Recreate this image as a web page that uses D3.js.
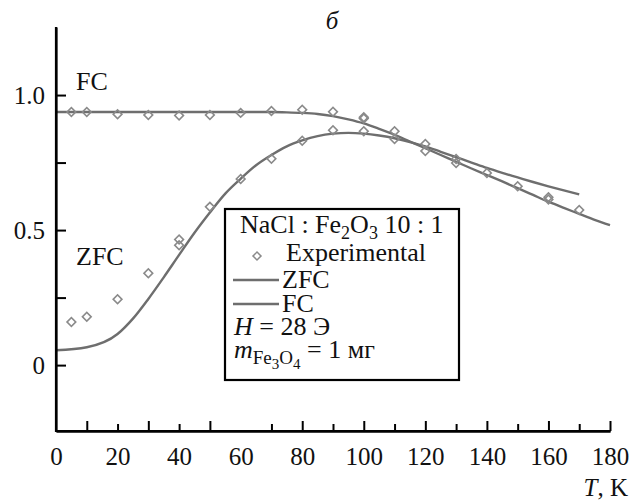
<!DOCTYPE html>
<html lang="en">
  <head>
    <meta charset="utf-8">
    <title>ZFC / FC</title>
    <script src="https://cdnjs.cloudflare.com/ajax/libs/d3/7.8.5/d3.min.js"></script>
    <style>
      body { margin: 0; background: #fff; }
      svg, text { font-family: "Liberation Serif", "Times New Roman", Times, "DejaVu Serif", serif; }
      text { fill: #111; }
    </style>
  </head>
  <body>
    <script>
      // temperature grid of the fitted curves (K)
      var curveT = [0, 10, 20, 25, 30, 35, 40, 45, 50, 55, 60, 65, 70, 75, 80, 85, 90, 95, 100,
                    105, 110, 115, 120, 125, 130, 135, 140, 145, 150, 155, 160, 165, 170, 175, 180];
      var fcCurve = [0.937, 0.937, 0.937, 0.937, 0.937, 0.937, 0.937, 0.937, 0.937, 0.937, 0.937, 0.937, 0.937, 0.936, 0.934, 0.930, 0.922, 0.910, 0.895,
                     0.875, 0.853, 0.828, 0.803, 0.778, 0.753, 0.728, 0.704, 0.680, 0.655, 0.630, 0.605, 0.582, 0.560, 0.538, 0.518];
      var zfcCurve = [0.055, 0.066, 0.115, 0.172, 0.245, 0.325, 0.408, 0.490, 0.565, 0.635, 0.690, 0.740, 0.778, 0.810, 0.832, 0.848, 0.857, 0.860, 0.857,
                      0.850, 0.840, 0.826, 0.810, 0.790, 0.770, 0.750, 0.730, 0.712, 0.695, 0.678, 0.662, 0.647, 0.632, null, null];

      // experimental points
      var fcExpT = [5, 10, 20, 30, 40, 50, 60, 70, 80, 90, 100, 100, 110, 120, 130, 160];
      var fcExpM = [0.937, 0.937, 0.929, 0.926, 0.924, 0.926, 0.934, 0.941, 0.946, 0.938, 0.913, 0.918, 0.866, 0.819, 0.763, 0.622];
      var zfcExpT = [5, 10, 20, 30, 40, 40, 50, 60, 70, 80, 90, 100, 110, 120, 130, 140, 150, 160, 170];
      var zfcExpM = [0.160, 0.179, 0.244, 0.340, 0.444, 0.465, 0.586, 0.689, 0.764, 0.831, 0.870, 0.866, 0.837, 0.793, 0.748, 0.711, 0.662, 0.613, 0.574];

      // ticks
      var xLabels = [0, 20, 40, 60, 80, 100, 120, 140, 160, 180];
      var xTallTicks = [10, 30, 50, 80, 100, 120, 140, 160, 180];
      var xShortTicks = [20, 40, 70, 90, 110, 130, 150, 170];
      var yTicks = [0, 0.25, 0.5, 0.75, 1.0];
      var yLabels = { "0": "0", "0.5": "0.5", "1": "1.0" };

      var w = 643, h = 503;

      var svg = d3.select("body").append("svg")
        .attr("width", w)
        .attr("height", h);

      var x = d3.scaleLinear().domain([0, 180]).range([56, 610]);
      var y = d3.scaleLinear().domain([-0.244, 1.252]).range([431, 27]);

      // curves
      var line = d3.line()
        .defined(function(d) { return d[1] != null; })
        .x(function(d) { return x(d[0]); })
        .y(function(d) { return y(d[1]); })
        .curve(d3.curveMonotoneX);

      var curves = [
        curveT.map(function(t, i) { return [t, zfcCurve[i]]; }),
        curveT.map(function(t, i) { return [t, fcCurve[i]]; })
      ];

      svg.selectAll(".fit")
        .data(curves)
        .enter()
        .append("path")
        .attr("class", "fit")
        .attr("d", line)
        .attr("fill", "none")
        .attr("stroke", "#6e6e6e")
        .attr("stroke-width", 2.4);

      // experimental diamonds
      var diamond = d3.symbol(d3.symbolSquare, 38);
      var pts = fcExpT.map(function(t, i) { return [t, fcExpM[i]]; })
        .concat(zfcExpT.map(function(t, i) { return [t, zfcExpM[i]]; }));

      svg.selectAll(".pt")
        .data(pts)
        .enter()
        .append("path")
        .attr("class", "pt")
        .attr("d", diamond)
        .attr("transform", function(d) { return "translate(" + x(d[0]) + "," + y(d[1]) + ") rotate(45)"; })
        .attr("fill", "none")
        .attr("stroke", "#8a8a8a")
        .attr("stroke-width", 1.6);

      // x axis: tall ticks, short ticks, labels
      svg.append("g")
        .attr("transform", "translate(0," + y.range()[0] + ")")
        .call(d3.axisBottom(x).tickValues(xTallTicks).tickSize(-10).tickSizeOuter(0).tickFormat(""));
      svg.append("g")
        .attr("transform", "translate(0," + y.range()[0] + ")")
        .call(d3.axisBottom(x).tickValues(xShortTicks).tickSize(-7).tickSizeOuter(0).tickFormat(""));
      svg.append("g")
        .attr("class", "xlab")
        .attr("transform", "translate(0," + y.range()[0] + ")")
        .call(d3.axisBottom(x).tickValues(xLabels).tickSize(0).tickSizeOuter(0).tickPadding(16).tickFormat(d3.format("d")));

      // y axis
      svg.append("g")
        .attr("class", "ylab")
        .attr("transform", "translate(" + x.range()[0] + ",0)")
        .call(d3.axisLeft(y).tickValues(yTicks).tickSize(-10).tickSizeOuter(0).tickPadding(11)
          .tickFormat(function(d) { return yLabels[String(d)] || ""; }));

      svg.selectAll("g").attr("font-family", null);
      svg.selectAll(".domain")
        .attr("stroke", "#000")
        .attr("stroke-width", 2.2);
      svg.selectAll(".tick line")
        .attr("stroke", "#000")
        .attr("stroke-width", 2);
      svg.selectAll(".xlab .domain").remove();
      svg.selectAll(".tick text")
        .attr("font-size", 25)
        .attr("fill", "#111");

      // corner joint
      svg.append("path")
        .attr("d", "M" + x.range()[0] + "," + y.range()[1] + "V" + y.range()[0] + "H" + x.range()[1])
        .attr("fill", "none")
        .attr("stroke", "#000")
        .attr("stroke-width", 2.2);

      // titles and curve names
      svg.append("text").attr("x", 332).attr("y", 29).attr("text-anchor", "middle")
        .attr("font-size", 25).attr("font-style", "italic").text("б");

      var tk = svg.append("text").attr("x", 628).attr("y", 496).attr("text-anchor", "end").attr("font-size", 25);
      tk.append("tspan").attr("font-style", "italic").text("T");
      tk.append("tspan").text(", K");

      svg.append("text").attr("x", 76).attr("y", 90).attr("font-size", 26).text("FC");
      svg.append("text").attr("x", 76).attr("y", 265).attr("font-size", 26).text("ZFC");

      // legend
      var lg = svg.append("g");
      lg.append("rect")
        .attr("x", 225).attr("y", 209)
        .attr("width", 234).attr("height", 171)
        .attr("fill", "#fff")
        .attr("stroke", "#000")
        .attr("stroke-width", 2.2);

      var fs = 26;
      var t1 = lg.append("text").attr("x", 240).attr("y", 233).attr("font-size", fs);
      t1.append("tspan").text("NaCl : Fe");
      t1.append("tspan").attr("font-size", 18).attr("dy", 6).text("2");
      t1.append("tspan").attr("dy", -6).text("O");
      t1.append("tspan").attr("font-size", 18).attr("dy", 6).text("3");
      t1.append("tspan").attr("dy", -6).text(" 10 : 1");

      lg.append("path")
        .attr("d", d3.symbol(d3.symbolSquare, 32))
        .attr("transform", "translate(257,256) rotate(45)")
        .attr("fill", "none").attr("stroke", "#8a8a8a").attr("stroke-width", 1.5);
      lg.append("text").attr("x", 286).attr("y", 261).attr("font-size", fs).text("Experimental");

      var legLines = [["ZFC", 280, 288], ["FC", 304, 312]];
      legLines.forEach(function(r) {
        lg.append("line")
          .attr("x1", 233).attr("x2", 279).attr("y1", r[1]).attr("y2", r[1])
          .attr("stroke", "#6e6e6e").attr("stroke-width", 2.4);
        lg.append("text").attr("x", 282).attr("y", r[2]).attr("font-size", fs).text(r[0]);
      });

      var t2 = lg.append("text").attr("x", 234).attr("y", 335).attr("font-size", fs);
      t2.append("tspan").attr("font-style", "italic").text("H");
      t2.append("tspan").text(" = 28 Э");

      var t3 = lg.append("text").attr("x", 234).attr("y", 358).attr("font-size", fs);
      t3.append("tspan").attr("font-style", "italic").text("m");
      t3.append("tspan").attr("font-size", 19).attr("dy", 6).text("Fe");
      t3.append("tspan").attr("font-size", 15).attr("dy", 5).text("3");
      t3.append("tspan").attr("font-size", 19).attr("dy", -5).text("O");
      t3.append("tspan").attr("font-size", 15).attr("dy", 5).text("4");
      t3.append("tspan").attr("dy", -11).text(" = 1 мг");
    </script>
  </body>
</html>
